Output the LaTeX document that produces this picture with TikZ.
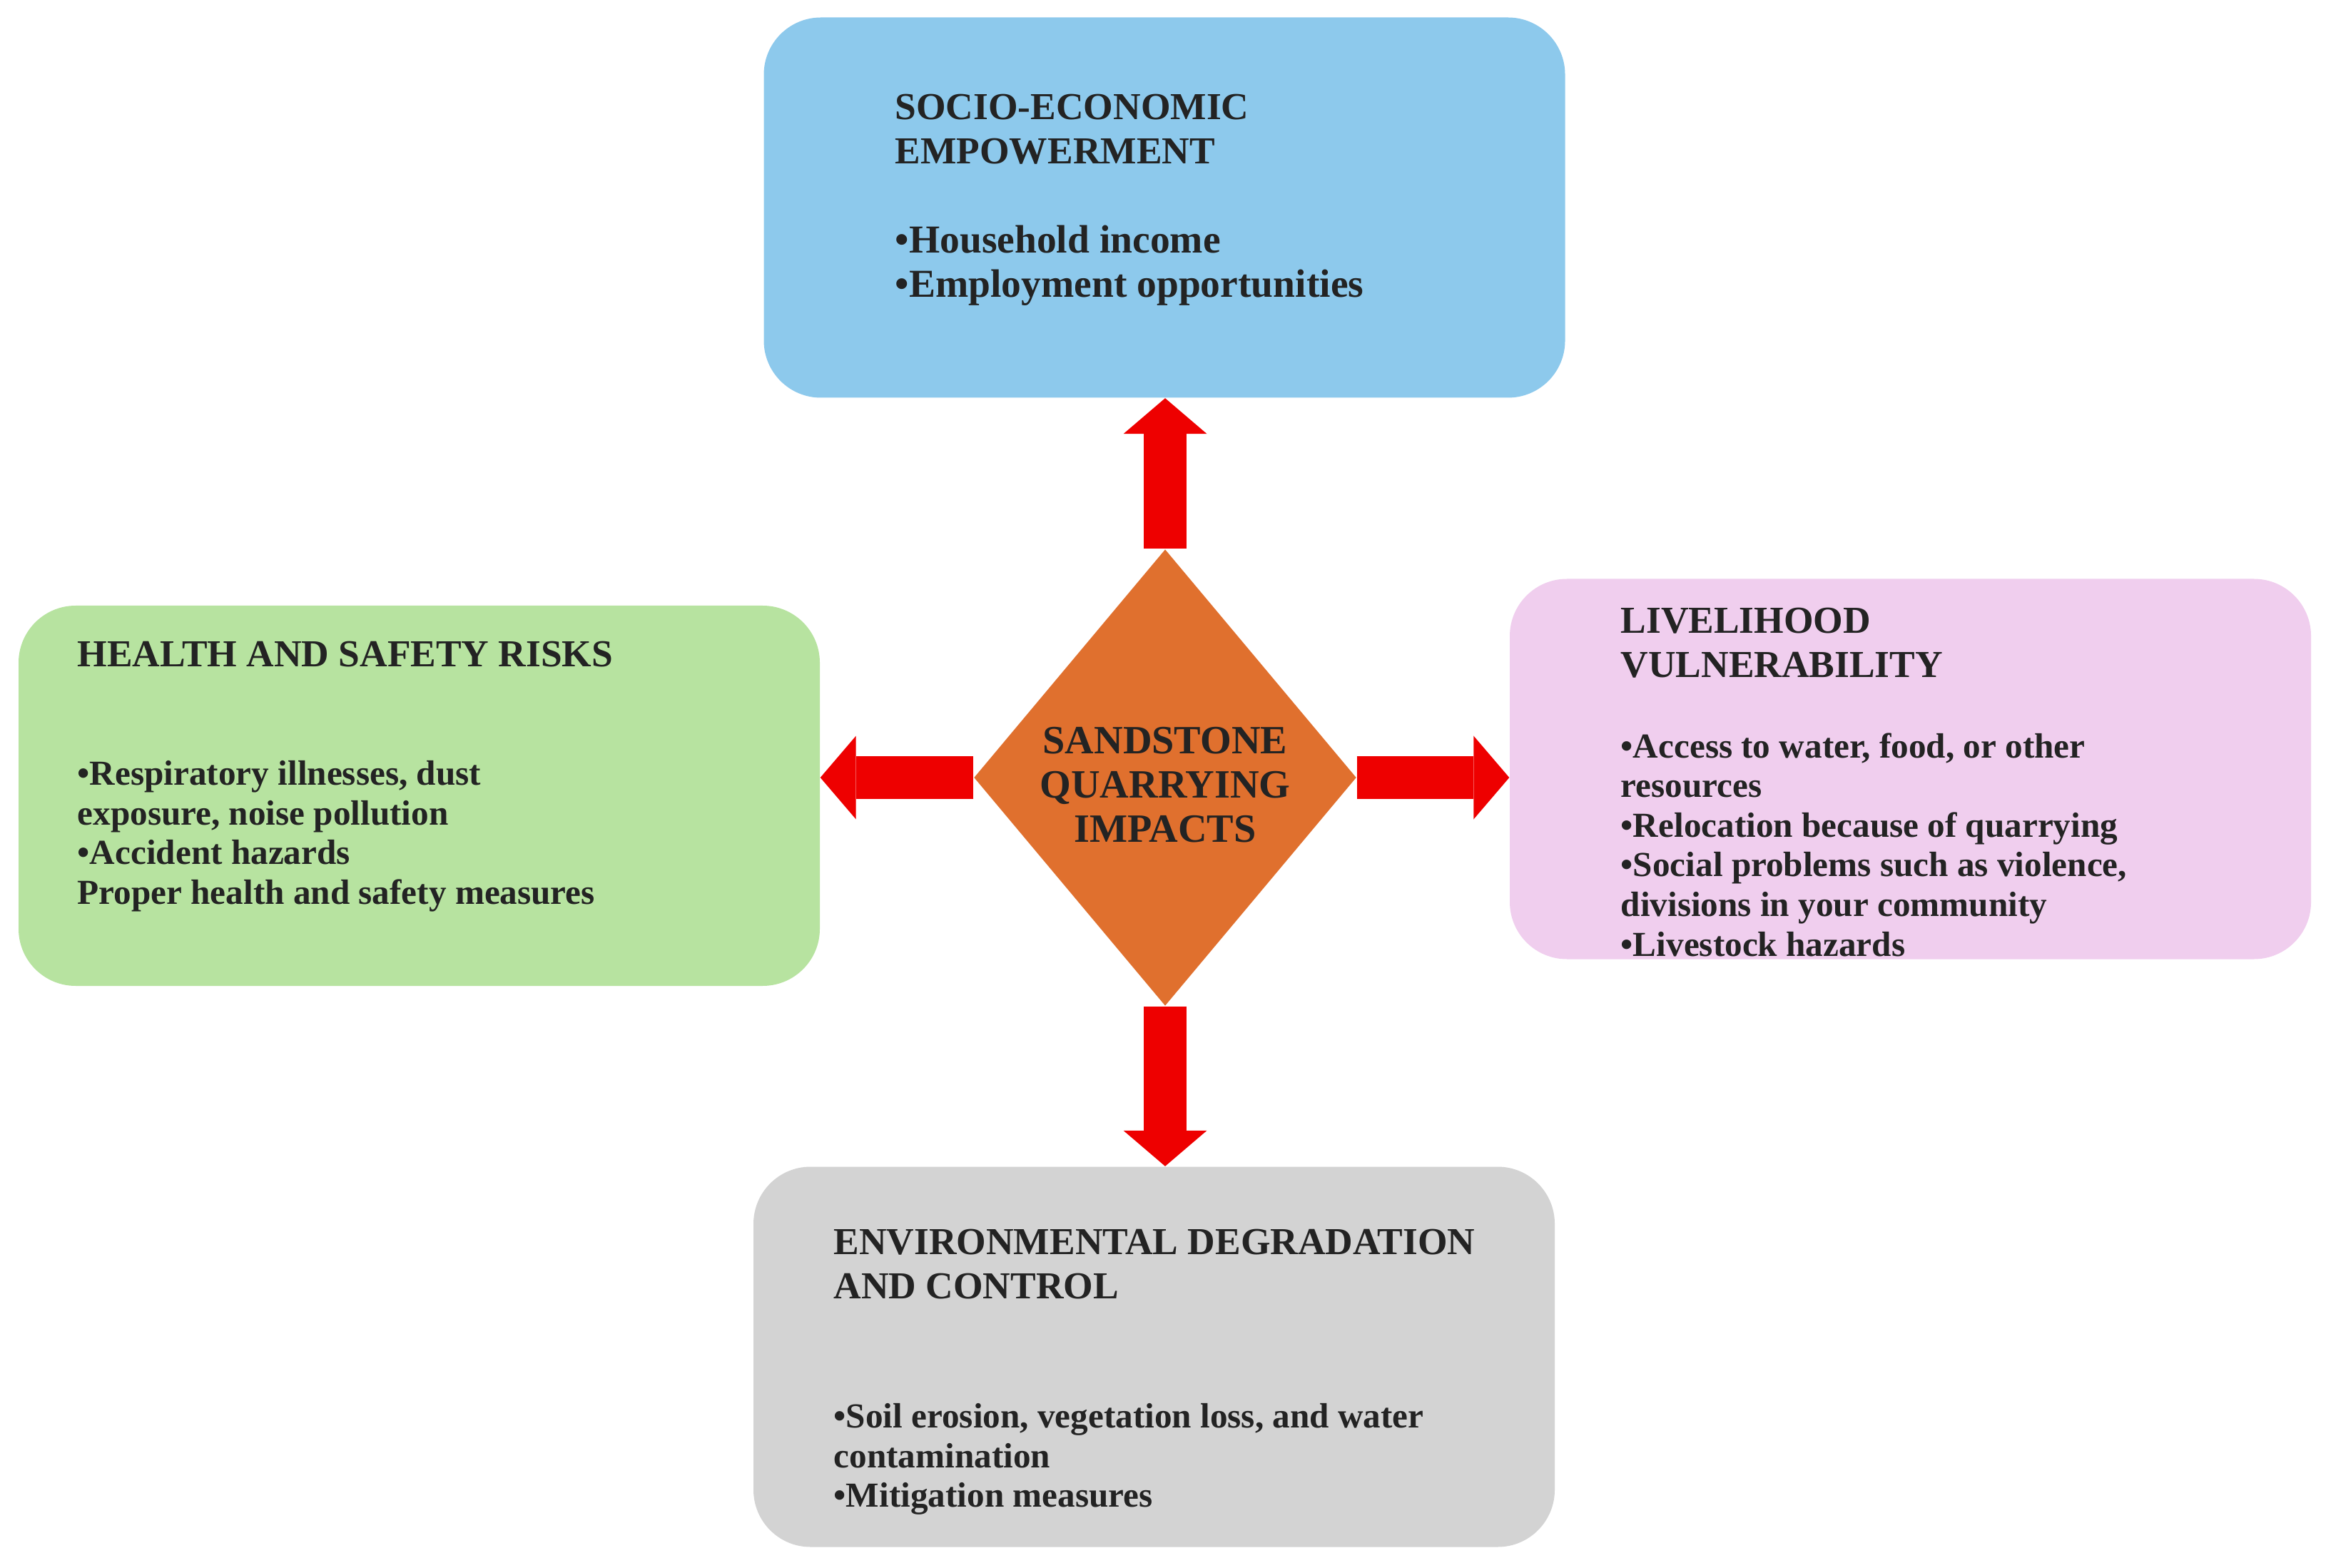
\documentclass[tikz,border=0pt]{standalone}
\usepackage{fontspec}
\setmainfont{Liberation Serif}
\usetikzlibrary{arrows.meta,positioning,shapes.geometric}
\definecolor{socioblue}{RGB}{141,201,236}
\definecolor{healthgreen}{RGB}{183,227,160}
\definecolor{livelipink}{RGB}{240,206,238}
\definecolor{envgray}{RGB}{211,211,211}
\definecolor{impactorange}{RGB}{224,112,46}
\definecolor{arrred}{RGB}{238,0,0}
\definecolor{textgray}{RGB}{35,35,35}

\begin{document}
\begin{tikzpicture}[
  panel/.style={rectangle, rounded corners=0.8cm, minimum width=11.23cm,
                minimum height=5.33cm, inner sep=0pt},
  head/.style={anchor=north west, inner sep=0pt, align=left, text=textgray,
               font=\bfseries\fontsize{15.2}{17.7}\selectfont},
  items/.style={head, font=\bfseries\fontsize{14}{15.8}\selectfont},
  fatarr/.style={draw=arrred, line width=0.6cm,
                 -{Triangle[width=1.17cm, length=0.5cm, line width=0pt]}}
]
\useasboundingbox (0,0) rectangle (32.6,-21.98);
% --- centre ---
\node[diamond, fill=impactorange, minimum width=5.36cm, minimum height=6.4cm,
      inner sep=0pt] (impact) at (16.33,-10.9) {};
\node[align=center, text=textgray, inner sep=0pt,
      font=\bfseries\fontsize{16}{17.7}\selectfont] (impacttext)
      at ([yshift=-0.1cm]impact.center) {SANDSTONE\\QUARRYING\\IMPACTS};
% --- panels ---
\node[panel, fill=socioblue]   (socio)  at (16.32,-2.91)  {};
\node[panel, fill=healthgreen] (health) at (5.875,-11.155) {};
\node[panel, fill=livelipink]  (liveli) at (26.775,-10.78) {};
\node[panel, fill=envgray]     (env)    at (16.175,-19.02) {};
% --- texts ---
\node[head] (sociohead) at (12.54,-1.31) {SOCIO-ECONOMIC\\EMPOWERMENT};
\node[head, font=\bfseries\fontsize{15.8}{17.7}\selectfont] (sociolist) at (12.54,-3.15)
  {•Household income\\•Employment opportunities};
\node[head]  (healthhead) at (1.08,-8.98) {HEALTH AND SAFETY RISKS};
\node[items] (healthlist) at (1.08,-10.66)
  {•Respiratory illnesses, dust\\exposure, noise pollution\\•Accident hazards\\Proper health and safety measures};
\node[head]  (livelihead) at (22.71,-8.51) {LIVELIHOOD\\VULNERABILITY};
\node[items] (livelilist) at (22.71,-10.27)
  {•Access to water, food, or other\\resources\\•Relocation because of quarrying\\•Social problems such as violence,\\divisions in your community\\•Livestock hazards};
\node[head]  (envhead) at (11.68,-17.22) {ENVIRONMENTAL DEGRADATION\\AND CONTROL};
\node[items] (envlist) at (11.68,-19.67)
  {•Soil erosion, vegetation loss, and water\\contamination\\•Mitigation measures};
% --- arrows ---
\draw[fatarr] (impact.north) -- (impact.north |- socio.south);
\draw[fatarr] (impact.west) -- (impact.west -| health.east);
\draw[fatarr] (impact.east) -- (impact.east -| liveli.west);
\draw[fatarr] (impact.south) -- (impact.south |- env.north);
\end{tikzpicture}
\end{document}
